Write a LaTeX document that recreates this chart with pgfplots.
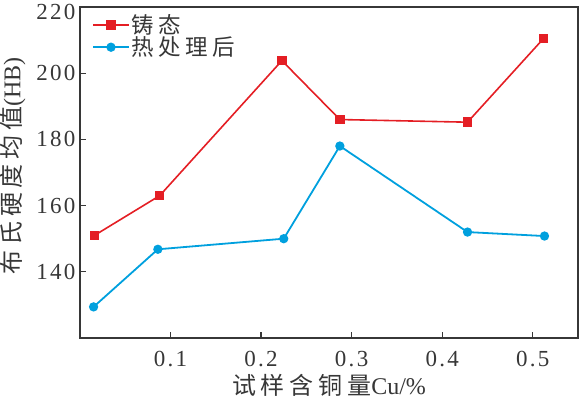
\documentclass[border=0pt]{standalone}
\usepackage{fontspec}
\setmainfont{Liberation Serif}
\newfontfamily\numfont[LetterSpace=10]{Liberation Serif}
\newfontfamily\cjk[LetterSpace=20]{Noto Sans CJK SC}
\usepackage{pgfplots}
\pgfplotsset{compat=1.18}
\definecolor{cred}{RGB}{228,30,36}
\definecolor{cblue}{RGB}{0,160,222}
\definecolor{axgray}{RGB}{55,55,55}
\begin{document}
\begin{tikzpicture}
\useasboundingbox (-80pt,-60pt) rectangle (501pt,338pt);
\begin{axis}[at={(0,0)}, anchor=south west, scale only axis,
  width=498pt, height=331pt,
  xmin=0, xmax=0.55, ymin=120, ymax=220,
  xtick={0.1,0.2,0.3,0.4,0.5}, ytick={140,160,180,200,220},
  xticklabels={0.1,0.2,0.3,0.4,0.5},
  yticklabels={140,160,180,200,\raisebox{-5pt}[\height][\depth]{220}},
  tick pos=left, tick align=inside, major tick length=6pt,
  axis line style={axgray, line width=1.3pt},
  every tick/.style={axgray, line width=1.2pt},
  /pgf/number format/assume math mode=true,
  ticklabel style={text=axgray, font=\numfont\fontsize{23}{26}\selectfont},
  xticklabel style={yshift=-10pt},
  yticklabel style={xshift=-1pt},
  xlabel={{\cjk 试样含铜量}Cu/\%},
  ylabel={{\cjk 布氏硬度均值}(HB)},
  label style={text=axgray, font=\fontsize{24}{26}\selectfont},
  xlabel style={at={(axis description cs:0.5,-0.142)}, anchor=center},
  ylabel style={at={(axis description cs:-0.135,0.52)}, anchor=center, rotate=0},
  legend style={at={(axis description cs:0.02,0.99)}, anchor=north west, draw=none, fill=none,
    font=\cjk\fontsize{22.5}{24}\selectfont, text=axgray, row sep=-2pt, inner sep=2pt,
    nodes={inner sep=2pt}},
  legend cell align=left,
  legend image code/.code={\draw[mark repeat=2,mark phase=2] plot coordinates {(0cm,0cm) (0.63cm,0cm) (1.26cm,0cm)};},
]
\addplot[cred, line width=1.6pt, mark=square*, mark size=4pt, mark options={solid}] coordinates {
(0.016,151) (0.088,163) (0.223,203.8) (0.287,186) (0.428,185.2) (0.512,210.5)};
\addlegendentry{铸态\hspace{2pt}}
\addplot[cblue, line width=1.8pt, mark=*, mark size=3.7pt, mark options={solid}] coordinates {
(0.015,129.4) (0.086,146.8) (0.225,150) (0.287,178) (0.428,152) (0.513,150.8)};
\addlegendentry{热处理后}
\end{axis}
\end{tikzpicture}
\end{document}
